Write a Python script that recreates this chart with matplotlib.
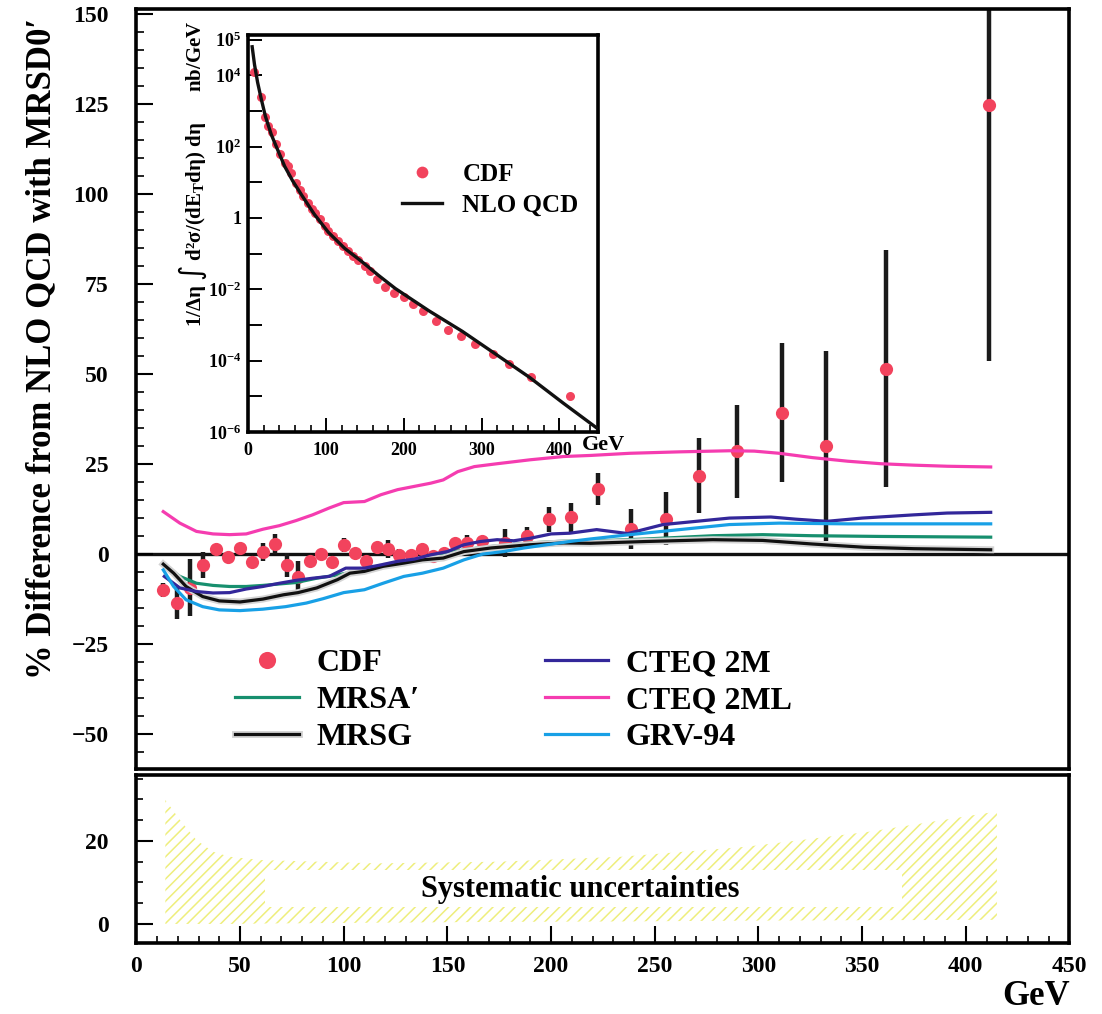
import matplotlib
matplotlib.use("Agg")
import matplotlib.pyplot as plt
import matplotlib.patheffects as pe
from matplotlib.ticker import MultipleLocator, FixedLocator, FixedFormatter, NullLocator

plt.rcParams['font.family'] = ['Liberation Serif', 'DejaVu Serif']
plt.rcParams['font.weight'] = 'bold'
plt.rcParams['mathtext.default'] = 'regular'
plt.rcParams['hatch.linewidth'] = 1.1

# CDF measurement: % difference from NLO QCD (MRSD0')
cdf_et = [13.0, 19.5, 25.9, 32.3, 38.3, 44.1, 50.0, 55.9, 61.2, 66.9, 72.5, 78.1, 83.8, 89.1,
          94.5, 100.1, 105.4, 110.8, 116.2, 121.5, 126.8, 132.4, 137.8, 143.0, 148.4, 153.7,
          159.3, 166.8, 177.8, 188.2, 199.1, 209.6, 222.8, 238.5, 255.4, 271.3, 289.5, 311.2,
          332.5, 361.3, 411.1]
cdf_diff = [-9.9, -13.6, -9.4, -3.0, 1.4, -0.8, 1.6, -2.3, 0.7, 2.8, -3.0, -6.4, -2.0, 0.0,
            -2.3, 2.6, 0.3, -1.8, 2.1, 1.4, -0.2, -0.2, 1.4, -0.5, 0.3, 3.0,
            3.2, 3.5, 3.1, 4.9, 9.7, 10.2, 18.0, 7.0, 9.8, 21.8, 28.5, 39.3,
            30.0, 51.5, 124.7]
cdf_err = [2.0, 4.4, 7.9, 3.7, 1.0, 1.0, 1.0, 1.0, 2.5, 2.9, 3.3, 4.5, 1.0, 1.0,
           1.0, 2.0, 1.0, 1.0, 1.0, 2.5, 1.5, 1.0, 1.0, 1.0, 1.0, 1.5,
           2.0, 1.0, 3.8, 2.7, 3.5, 4.0, 4.5, 5.5, 7.4, 10.5, 12.9, 19.3,
           26.4, 33.0, 71.0]

# PDF curves
mrsa_et = [13.5, 21, 29, 37, 45, 53, 61, 69, 77, 87, 97, 110, 126, 142, 158, 174, 190, 206,
           219, 246, 278, 302, 326, 359, 412]
mrsa_diff = [-3.0, -6.2, -8.1, -8.7, -9.0, -9.0, -8.7, -8.3, -7.9, -6.7, -5.8, -4.3, -2.5, -0.6,
             1.2, 2.3, 3.1, 3.6, 3.6, 4.2, 5.1, 5.4, 5.1, 4.9, 4.7]
mrsg_et = [13, 18, 24, 32, 40, 50, 61, 71, 78, 87, 97, 103, 110, 119, 129, 138, 148, 158, 171,
           190, 206, 219, 246, 278, 302, 326, 351, 375, 412]
mrsg_diff = [-2.8, -5.3, -9.0, -11.8, -13.0, -13.3, -12.5, -11.3, -10.7, -9.4, -7.1, -5.3, -4.8,
             -3.4, -2.5, -1.6, -1.1, 0.7, 1.7, 2.6, 3.1, 3.0, 3.5, 4.0, 3.8, 2.8, 1.9, 1.5, 1.2]
cteq2m_et = [13.5, 21, 29, 37, 45, 53, 61, 69, 77, 85, 93, 101, 110, 118, 126, 134, 142, 150,
             158, 166, 174, 182, 190, 200, 209, 222, 237, 254, 270, 286, 306, 318, 333, 350,
             375, 391, 412]
cteq2m_diff = [-6.2, -9.4, -10.4, -10.8, -10.7, -9.7, -9.0, -8.1, -7.3, -6.7, -6.2, -3.9, -3.9,
               -3.0, -2.0, -1.4, -0.2, 0.7, 2.6, 3.5, 4.0, 3.7, 4.4, 5.6, 5.8, 6.8, 5.7, 8.2,
               9.1, 10.0, 10.3, 9.7, 9.1, 10.0, 10.9, 11.4, 11.6]
cteq2ml_et = [13, 21, 29, 37, 45, 53, 61, 69, 77, 85, 93, 100, 110, 118, 126, 134, 142, 148,
              155, 163, 174, 190, 206, 219, 238, 262, 286, 298, 310, 326, 343, 359, 375, 391, 412]
cteq2ml_diff = [11.8, 8.6, 6.3, 5.6, 5.4, 5.6, 6.9, 7.9, 9.3, 10.9, 12.8, 14.3, 14.6, 16.5,
                17.9, 18.8, 19.7, 20.6, 22.9, 24.3, 25.1, 26.2, 27.1, 27.4, 28.0, 28.4, 28.7,
                28.6, 28.0, 26.8, 25.8, 25.1, 24.7, 24.4, 24.2]
grv_et = [13, 18, 24, 32, 40, 50, 61, 72, 82, 90, 100, 110, 119, 129, 138, 148, 158, 167, 177,
          187, 198, 209, 219, 238, 262, 286, 310, 343, 375, 412]
grv_diff = [-4.4, -9.0, -12.7, -14.6, -15.5, -15.7, -15.3, -14.6, -13.6, -12.4, -10.7, -9.9,
            -8.1, -6.2, -5.3, -3.9, -1.6, 0.0, 0.7, 1.7, 2.6, 3.5, 4.2, 5.4, 6.8, 8.2, 8.6,
            8.4, 8.4, 8.4]

# systematic uncertainty band
syst_et = [14, 21, 29, 37, 45, 60, 116, 175, 234, 294, 353, 415]
syst_hi = [29.9, 25.1, 20.2, 17.4, 16.2, 15.4, 14.6, 15.0, 16.2, 18.6, 22.2, 27.1]
syst_lo = [0.0, 0.0, 0.0, 0.0, 0.0, 0.1, 0.3, 0.5, 0.6, 0.8, 0.9, 1.0]
gap_et = [62, 369]
gap_lo = [4.1, 4.1]
gap_hi = [13.0, 13.0]

# inset: cross section (nb/GeV)
inset_et = [7.1, 16.6, 20.9, 25.2, 30.4, 36.0, 40.3, 46.8, 51.1, 55.4, 61.9, 66.2, 70.5, 77.0,
            81.3, 85.6, 92.1, 98.5, 102.8, 109.3, 115.8, 122.2, 128.7, 135.2, 141.7, 150.3,
            156.8, 165.4, 176.2, 186.9, 199.9, 211.9, 224.5, 240.8, 257.2, 273.2, 291.7,
            314.1, 334.8, 363.7, 414.2]
inset_xsec = [1.26e4, 2.4e3, 6.9e2, 3.8e2, 2.6e2, 1.2e2, 63, 35, 28, 18, 9.8, 6.2, 4.0, 2.6,
              1.8, 1.35, 0.93, 0.58, 0.42, 0.32, 0.23, 0.16, 0.115, 0.087, 0.065, 0.044,
              0.032, 0.020, 0.0115, 0.0081, 0.0059, 0.0039, 0.0024, 0.00126, 7.4e-4, 4.8e-4,
              2.95e-4, 1.55e-4, 7.8e-5, 3.5e-5, 1.05e-5]
nlo_et = [5, 8, 12, 16.6, 22, 29.5, 37, 46.8, 57, 68.3, 85, 102.8, 124, 145.9, 167, 189.1,
          232.2, 275.3, 318.5, 361.6, 404.7, 447.9]
nlo_xsec = [6.3e4, 2.0e4, 6.3e3, 2.2e3, 7.1e2, 2.2e2, 89, 28, 11, 4.5, 1.26, 0.40, 0.14, 0.060,
            0.025, 0.0105, 2.5e-3, 6.6e-4, 1.5e-4, 3.4e-5, 6.5e-6, 1.3e-6]
inset_yticks = [1e-6, 1e-5, 1e-4, 1e-3, 1e-2, 1e-1, 1, 10, 1e2, 1e3, 1e4, 1e5]
inset_ylabels = ['10$^{-6}$', '', '10$^{-4}$', '', '10$^{-2}$', '', '1', '',
                 '10$^{2}$', '', '10$^{4}$', '10$^{5}$']

red = '#f2435d'

fig = plt.figure(figsize=(11.02, 10.14), dpi=100)
ax = fig.add_axes([0.1237, 0.2416, 0.8468, 0.7495])
axb = fig.add_axes([0.1237, 0.0700, 0.8468, 0.1657])
axi = fig.add_axes([0.2253, 0.574, 0.3176, 0.3915])

# main panel
ax.axhline(0, color='#111111', lw=2.4, zorder=1)
ax.errorbar(cdf_et, cdf_diff, yerr=cdf_err, fmt='none', ecolor='#1a1a1a', elinewidth=3.2,
            capsize=0, zorder=2)
p_cdf, = ax.plot(cdf_et, cdf_diff, 'o', color=red, ms=9.5, mec='none', zorder=3, label='CDF')
l1, = ax.plot(mrsa_et, mrsa_diff, color='#178f6e', lw=2.3, zorder=4, label='MRSA′')
l2, = ax.plot(mrsg_et, mrsg_diff, color='#111111', lw=2.3, zorder=4, label='MRSG',
              path_effects=[pe.Stroke(linewidth=5, foreground='#d4d4d4'), pe.Normal()])
l3, = ax.plot(cteq2m_et, cteq2m_diff, color='#33279a', lw=2.3, zorder=4, label='CTEQ 2M')
l4, = ax.plot(cteq2ml_et, cteq2ml_diff, color='#f53cb0', lw=2.3, zorder=4, label='CTEQ 2ML')
l5, = ax.plot(grv_et, grv_diff, color='#18a0e6', lw=2.3, zorder=4, label='GRV-94')

ax.set_xlim(0, 450)
ax.set_ylim(-59.7, 151.4)
ax.yaxis.set_major_locator(MultipleLocator(25))
ax.yaxis.set_minor_locator(MultipleLocator(5))
ax.tick_params(axis='y', which='major', direction='in', length=12, width=1.5, labelsize=17, pad=20)
ax.tick_params(axis='y', which='minor', direction='in', length=6, width=1.2)
ax.tick_params(axis='x', which='both', bottom=False, labelbottom=False)
for s in ax.spines.values():
    s.set_linewidth(2.6)

ax.legend(handles=[p_cdf, l1, l2, l3, l4, l5], ncol=2, loc='upper left',
          bbox_to_anchor=(0.106, 0.158), frameon=False, fontsize=23, handlelength=2.0,
          handletextpad=0.55, columnspacing=3.9, labelspacing=0.24, borderpad=0,
          borderaxespad=0, markerscale=1.3)

# systematic panel
axb.fill_between(syst_et, syst_lo, syst_hi, facecolor='none', edgecolor='#eeee7c',
                 hatch='///', linewidth=0)
axb.fill_between(gap_et, gap_lo, gap_hi, color='white', lw=0, zorder=2)
axb.text(214, 8.3, 'Systematic uncertainties', ha='center', va='center', fontsize=22, zorder=3)
axb.set_xlim(0, 450)
axb.set_ylim(-4.6, 35.9)
axb.yaxis.set_major_locator(FixedLocator([0, 20]))
axb.yaxis.set_minor_locator(MultipleLocator(5))
axb.xaxis.set_major_locator(MultipleLocator(50))
axb.xaxis.set_minor_locator(MultipleLocator(10))
axb.tick_params(axis='both', which='major', direction='in', length=12, width=1.5, labelsize=17)
axb.tick_params(axis='both', which='minor', direction='in', length=5, width=1.2)
axb.tick_params(axis='y', which='major', pad=20)
axb.tick_params(axis='x', which='major', pad=9)
for s in axb.spines.values():
    s.set_linewidth(2.6)

# inset
axi.set_yscale('log')
n_line, = axi.plot(nlo_et, nlo_xsec, color='#111111', lw=2.4, zorder=3, label='NLO QCD')
c_pts, = axi.plot(inset_et, inset_xsec, 'o', color=red, ms=6.5, mec='none', zorder=2, label='CDF')
axi.set_xlim(0, 450)
axi.set_ylim(1e-6, 10 ** 5.13)
axi.xaxis.set_major_locator(MultipleLocator(100))
axi.xaxis.set_minor_locator(MultipleLocator(20))
axi.yaxis.set_major_locator(FixedLocator(inset_yticks))
axi.yaxis.set_major_formatter(FixedFormatter(inset_ylabels))
axi.yaxis.set_minor_locator(NullLocator())
axi.tick_params(axis='both', which='major', direction='in', length=10, width=1.4, labelsize=13)
axi.tick_params(axis='x', which='minor', direction='in', length=5, width=1.2)
axi.tick_params(axis='x', which='major', pad=7)
axi.tick_params(axis='y', which='major', pad=5)
for s in axi.spines.values():
    s.set_linewidth(2.6)
axi.text(1.015, -0.033, 'GeV', transform=axi.transAxes, ha='center', va='center', fontsize=16)
axi.legend(handles=[c_pts, n_line], loc='upper left', bbox_to_anchor=(0.44, 0.677),
           frameon=False, fontsize=18, handlelength=1.6, handletextpad=0.8,
           labelspacing=0.3, borderpad=0, borderaxespad=0, markerscale=1.3)

fig.text(0.175, 0.829, '1/Δη ∫ d²σ/(dE$_T$dη) dη      nb/GeV', rotation=90,
         ha='center', va='center', fontsize=15)
fig.text(0.038, 0.656, '% Difference from NLO QCD with MRSD0′', rotation=90,
         ha='center', va='center', fontsize=25)
fig.text(0.94, 0.017, 'GeV', ha='center', va='center', fontsize=25)

fig.savefig('out.png', dpi=100)
